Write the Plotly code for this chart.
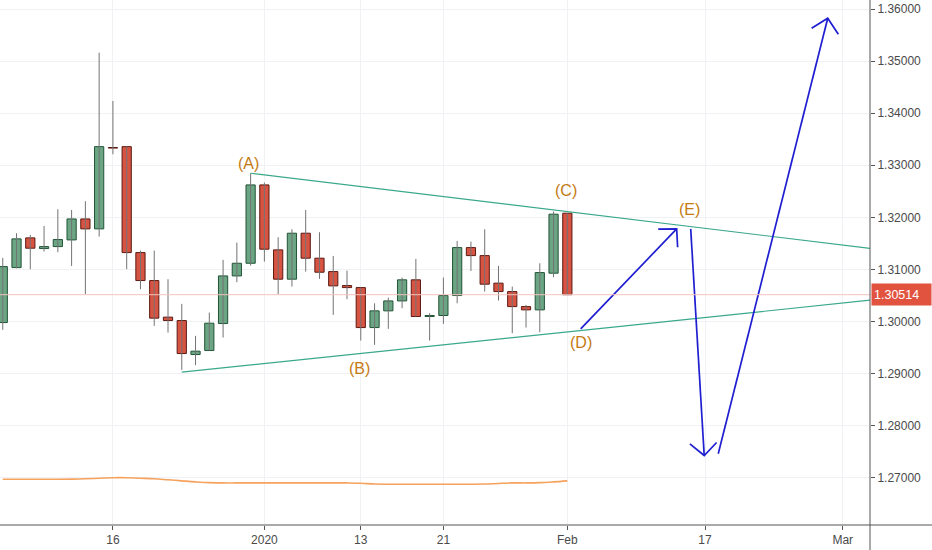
"""GBPUSD daily candles with a hand-drawn Elliott triangle (A)-(E)."""

import pandas as pd
import plotly.graph_objects as go

# --- candle data (daily, weekends and 25 Dec / 1 Jan have no bar) ---
dates = [
    "2019-12-04", "2019-12-05", "2019-12-06", "2019-12-09", "2019-12-10",
    "2019-12-11", "2019-12-12", "2019-12-13", "2019-12-16", "2019-12-17",
    "2019-12-18", "2019-12-19", "2019-12-20", "2019-12-23", "2019-12-24",
    "2019-12-26", "2019-12-27", "2019-12-30", "2019-12-31", "2020-01-02",
    "2020-01-03", "2020-01-06", "2020-01-07", "2020-01-08", "2020-01-09",
    "2020-01-10", "2020-01-13", "2020-01-14", "2020-01-15", "2020-01-16",
    "2020-01-17", "2020-01-20", "2020-01-21", "2020-01-22", "2020-01-23",
    "2020-01-24", "2020-01-27", "2020-01-28", "2020-01-29", "2020-01-30",
    "2020-01-31", "2020-02-03",
]
open_ = [
    1.29979, 1.31035, 1.31605, 1.31400, 1.31438, 1.31566, 1.31969, 1.31778,
    1.33340, 1.33357, 1.31323, 1.30786, 1.30083, 1.30018, 1.29365, 1.29442,
    1.29960, 1.30875, 1.31118, 1.32622, 1.31375, 1.30812, 1.31695, 1.31215,
    1.30958, 1.30690, 1.30651, 1.29883, 1.30204, 1.30395, 1.30800, 1.30095,
    1.30115, 1.30498, 1.31419, 1.31265, 1.30736, 1.30574, 1.30286, 1.30223,
    1.30927, 1.32079,
]
high = [
    1.31221, 1.31695, 1.31662, 1.31835, 1.32155, 1.32142, 1.32309, 1.35162,
    1.34234, 1.33357, 1.31362, 1.31362, 1.30812, 1.30338, 1.29724, 1.30171,
    1.31183, 1.31515, 1.32846, 1.32666, 1.31618, 1.31771, 1.32142, 1.31714,
    1.31259, 1.30977, 1.30651, 1.30350, 1.30459, 1.30843, 1.31202, 1.30160,
    1.30843, 1.31547, 1.31534, 1.31771, 1.31067, 1.30670, 1.30319, 1.31118,
    1.32110, 1.32079,
]
low = [
    1.29839, 1.31020, 1.31004, 1.31342, 1.31330, 1.31067, 1.30524, 1.31631,
    1.33211, 1.31004, 1.30620, 1.29916, 1.29787, 1.29071, 1.29161, 1.29442,
    1.29692, 1.30754, 1.31073, 1.31150, 1.30524, 1.30670, 1.30958, 1.30818,
    1.30127, 1.30428, 1.29634, 1.29551, 1.29858, 1.30255, 1.30095, 1.29634,
    1.29954, 1.30350, 1.30971, 1.30574, 1.30402, 1.29775, 1.29883, 1.29794,
    1.30850, 1.30514,
]
close = [
    1.31054, 1.31586, 1.31407, 1.31438, 1.31573, 1.31969, 1.31778, 1.33357,
    1.33330, 1.31323, 1.30786, 1.30064, 1.30018, 1.29384, 1.29430, 1.29967,
    1.30875, 1.31118, 1.32622, 1.31388, 1.30812, 1.31695, 1.31215, 1.30946,
    1.30684, 1.30651, 1.29883, 1.30204, 1.30395, 1.30800, 1.30095, 1.30115,
    1.30498, 1.31419, 1.31265, 1.30716, 1.30574, 1.30286, 1.30223, 1.30939,
    1.32060, 1.30514,
]
# orange indicator line drawn under the candles
indicator = [
    1.26970, 1.26970, 1.26970, 1.26970, 1.26970, 1.26972, 1.26980, 1.26990,
    1.27000, 1.27000, 1.26990, 1.26980, 1.26960, 1.26940, 1.26920, 1.26905,
    1.26900, 1.26900, 1.26900, 1.26900, 1.26900, 1.26900, 1.26900, 1.26900,
    1.26900, 1.26900, 1.26895, 1.26878, 1.26875, 1.26875, 1.26875, 1.26875,
    1.26875, 1.26875, 1.26875, 1.26878, 1.26890, 1.26900, 1.26900, 1.26905,
    1.26920, 1.26940,
]
last_price = 1.30514

tick_dates = ["2019-12-16", "2020-01-02", "2020-01-13", "2020-01-21",
              "2020-02-03", "2020-02-17", "2020-03-02"]
tick_text = ["16", "2020", "13", "21", "Feb", "17", "Mar"]

# triangle boundaries: two anchor points each, extended to the right edge
upper_anchor = [("2019-12-31", 1.32846), ("2020-02-03", 1.32109)]
lower_anchor = [("2019-12-23", 1.29027), ("2020-02-03", 1.29801)]

# hand-drawn projection arrows, x in bar numbers (0 = 4 Dec 2019)
wave_de_x = [41.97, 48.94]
wave_de_y = [1.29858, 1.31778]
head_e_x = [47.60, 48.94, 49.01]
head_e_y = [1.31772, 1.31778, 1.31426]
drop_x = [49.96, 50.94]
drop_y = [1.31778, 1.27426]
head_drop_x = [49.90, 50.94, 51.84]
head_drop_y = [1.27651, 1.27426, 1.27676]
rally_x = [51.96, 59.91]
rally_y = [1.27459, 1.35822]
head_rally_x = [58.74, 59.91, 60.68]
head_rally_y = [1.35630, 1.35822, 1.35515]

wave_labels = ["(A)", "(B)", "(C)", "(D)", "(E)"]
label_x = [17.88, 25.94, 40.90, 41.97, 49.85]
label_y = [1.33025, 1.29104, 1.32513, 1.29603, 1.32142]

# --- trading calendar -> bar numbers ---
cal = pd.bdate_range("2019-12-04", "2020-03-10")
cal = cal[~cal.isin(pd.to_datetime(["2019-12-25", "2020-01-01"]))]
bar_of = {d.strftime("%Y-%m-%d"): i for i, d in enumerate(cal)}
xs = [bar_of[d] for d in dates]
x_left, x_right = -0.2, 62.98
y_low, y_high = 1.26092, 1.36173

UP, UP_EDGE = "#6ba583", "#225437"
DN, DN_EDGE = "#d75442", "#5b1a13"

fig = go.Figure()

# wicks
wx, wy = [], []
for x, h, l in zip(xs, high, low):
    wx += [x, x, None]
    wy += [l, h, None]
fig.add_trace(go.Scatter(x=wx, y=wy, mode="lines",
                         line=dict(color="#737375", width=1), hoverinfo="skip"))

# bodies
base = [min(o, c) for o, c in zip(open_, close)]
size = [max(abs(c - o), 0.00006) for o, c in zip(open_, close)]
up = [c >= o for o, c in zip(open_, close)]
fig.add_trace(go.Bar(
    x=xs, y=size, base=base, width=0.67,
    marker=dict(color=[UP if u else DN for u in up],
                line=dict(color=[UP_EDGE if u else DN_EDGE for u in up], width=1)),
    hoverinfo="skip",
))

fig.add_trace(go.Scatter(x=xs, y=indicator, mode="lines",
                         line=dict(color="#f5a25d", width=1.6, shape="spline"),
                         hoverinfo="skip"))


def ray(anchor):
    (d0, p0), (d1, p1) = anchor
    x0, x1 = bar_of[d0], bar_of[d1]
    slope = (p1 - p0) / (x1 - x0)
    return [x0, x_right], [p0, p0 + slope * (x_right - x0)]


for anchor in (upper_anchor, lower_anchor):
    rx, ry = ray(anchor)
    fig.add_trace(go.Scatter(x=rx, y=ry, mode="lines",
                             line=dict(color="#3aa88b", width=1.2), hoverinfo="skip"))

for px, py in [(wave_de_x, wave_de_y), (head_e_x, head_e_y),
               (drop_x, drop_y), (head_drop_x, head_drop_y),
               (rally_x, rally_y), (head_rally_x, head_rally_y)]:
    fig.add_trace(go.Scatter(x=px, y=py, mode="lines",
                             line=dict(color="#1f1fd1", width=1.7), hoverinfo="skip"))

for t, x, y in zip(wave_labels, label_x, label_y):
    fig.add_annotation(x=x, y=y, text=t, showarrow=False,
                       font=dict(family="Liberation Sans", size=16, color="#c47a12"))

# last price line and tag
fig.add_shape(type="line", xref="paper", x0=0, x1=1, yref="y",
              y0=last_price, y1=last_price, line=dict(color="#f4c2bd", width=1))
fig.add_annotation(xref="paper", x=1, y=last_price, xanchor="left", yanchor="middle",
                   text=f"{last_price:.5f}", showarrow=False, xshift=1,
                   bgcolor="#e2533f", width=55, height=17, align="left", borderpad=2,
                   font=dict(family="Liberation Sans", size=12.5, color="white"))

# pane borders extending past the plot like the original
fig.add_shape(type="line", xref="paper", yref="paper", x0=0, x1=932 / 870, y0=0, y1=0,
              line=dict(color="#555555", width=1))
fig.add_shape(type="line", xref="paper", yref="paper", x0=1, x1=1, y0=-0.06, y1=1,
              line=dict(color="#555555", width=1))

fig.update_layout(
    width=932, height=550,
    margin=dict(l=0, r=62, t=0, b=25),
    showlegend=False,
    plot_bgcolor="white", paper_bgcolor="white",
    font=dict(family="Liberation Sans", size=12, color="#4a4a4a"),
    xaxis=dict(range=[x_left, x_right], tickvals=[bar_of[d] for d in tick_dates],
               ticktext=tick_text, showgrid=True, gridcolor="#f0f1f4",
               zeroline=False, ticks="outside", ticklen=4, tickcolor="#555555",
               showline=False, fixedrange=True),
    yaxis=dict(side="right", range=[y_low, y_high], dtick=0.01, tickformat=".5f",
               showgrid=True, gridcolor="#f0f1f4", zeroline=False,
               ticks="outside", ticklen=4, tickcolor="#555555", showline=False,
               fixedrange=True),
)

# the page's default body margin would shift the 932x550 figure off the window
fig.write_html("out.html", config={"displayModeBar": False},
               post_script="document.body.style.margin='0';")
